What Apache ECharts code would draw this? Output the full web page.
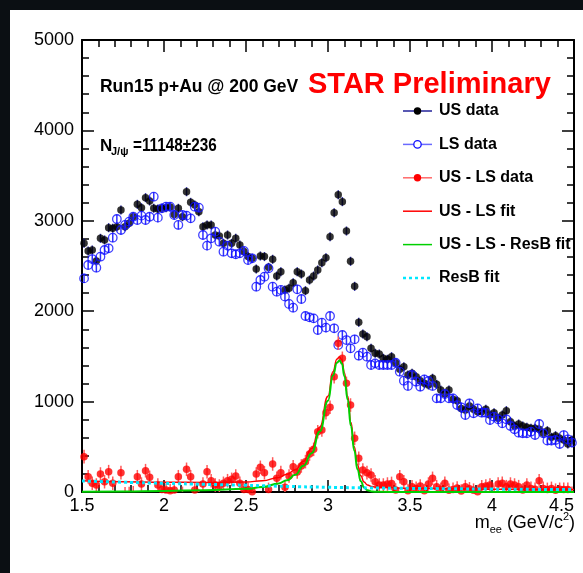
<!DOCTYPE html>
<html><head><meta charset="utf-8">
<script src="https://cdn.jsdelivr.net/npm/echarts@6/dist/echarts.min.js"></script>
<style>html,body{margin:0;padding:0;background:#0b0f13;}#c{width:583px;height:573px;}</style>
</head><body><div id="c"></div>
<script>
// ---- data ----
const binStart = 1.5, binWidth = 0.025;
const usData = [2751,2666,2677,2555,2806,2788,2924,2917,2935,3119,2935,2972,3045,3182,3145,3256,3219,3138,3131,3138,3145,3153,3071,3138,3045,3322,3204,3175,3101,2935,2953,2953,2843,2832,2751,2843,2751,2806,2733,2660,2604,
2585,2467,2611,2604,2485,2574,2389,2437,2235,2253,2315,2437,2411,2227,2345,2389,2456,2537,2592,
2824,3090,3289,3212,2887,2552,2275,1877,1748,1718,1589,1534,1527,1479,1468,1497,1430,1357,
1386,1294,1313,1276,1231,1202,1184,1258,1191,1128,1084,1128,1025,1010,925,907,951,914,888,888,914,852,877,815,852,900,778,730,752,730,715,704,704,693,649,678,605,623,594,575,531,575];
const lsData = [2363,2511,2577,2481,2603,2677,2696,2813,3020,2898,2954,2990,3045,3009,3057,3009,3045,3267,3035,3138,3156,3156,3064,2954,3064,3057,3027,3156,3145,2843,2725,2806,2880,2769,2658,2725,2640,2630,2640,2667,2566,
2585,2271,2345,2382,2474,2271,2216,2235,2161,2080,2039,2242,2135,1947,1932,1921,1792,1873,1818,1947,1811,
1626,1737,1681,1589,1689,1508,1541,1497,1405,1423,1405,1405,1405,1405,1430,1331,
1231,1173,1294,1220,1165,1246,1228,1173,1036,1036,1084,1036,1036,962,937,852,981,870,925,877,877,796,833,804,760,804,730,693,656,649,649,667,630,752,649,568,568,575,531,630,583,546];
const sigData = [391,169,96,77,199,114,225,96,-85,214,-19,-18,-10,169,88,236,162,-129,77,29,22,15,22,169,-15,251,169,22,-44,88,225,125,77,66,96,125,140,177,96,29,29,4,199,273,214,29,310,151,214,52,177,280,221,288,336,420,472,667,686,877,937,1276,1645,1479,1202,962,594,372,243,214,188,114,77,77,88,95,22,169,114,15,59,40,66,15,88,151,59,30,96,20,29,45,10,59,35,20,4,59,66,77,-4,88,96,59,88,77,59,22,77,40,30,125,40,29,40,20,30,29,29,-15];
const usErr = 50, lsErr = 50, sigErr = 75;
const fitX      = [1.5,1.75,2.0,2.25,2.5,2.6,2.7,2.75,2.8,2.85,2.9,2.95,3.0,3.03,3.055,3.07,3.085,3.1,3.12,3.14,3.16,3.18,3.2,3.22,3.24,3.27,3.3,3.5,3.75,4.0,4.25,4.5];
const fitTotal  = [125,114,108,106,110,125,160,195,245,340,480,720,1060,1330,1470,1495,1460,1320,1060,770,500,300,180,110,78,60,52,40,35,31,29,27];
const fitSignal = [3,6,11,20,35,55,95,130,190,290,430,670,1010,1290,1430,1455,1420,1280,1020,730,460,250,120,50,20,6,2,0,0,0,0,0];
const resbX   = [1.5,1.75,2.0,2.25,2.5,2.75,3.0,3.25,3.5,3.75,4.0,4.25,4.5];
const resbFit = [122,108,96,85,74,62,52,45,40,36,32,29,27];
const legendNames = ['US data','LS data','US - LS data','US - LS fit','US - LS - ResB fit','ResB fit'];

const massBins = usData.map((_, i) => binStart + binWidth * (i + 0.5));
const pairs = (xs, ys) => ys.map((v, i) => [xs[i], v]);
const FONT = 'Liberation Sans, Arial, sans-serif';

function errSeries(vals, err, color, z) {
  return {
    type: 'custom', z: z, clip: true, silent: true,
    data: vals.map((v, i) => [massBins[i], v, err]),
    encode: { x: 0, y: 1 },
    renderItem: function (params, api) {
      const x = api.value(0), y = api.value(1), e = api.value(2);
      const p1 = api.coord([x, y - e]), p2 = api.coord([x, y + e]);
      return { type: 'line', shape: { x1: p1[0], y1: p1[1], x2: p2[0], y2: p2[1] },
               style: { stroke: color, lineWidth: 1.5 } };
    }
  };
}

const axisCommon = {
  axisLine: { show: true, onZero: false, lineStyle: { color: '#000', width: 2 } },
  axisTick: { show: true, inside: true, length: 12, lineStyle: { color: '#000', width: 1.5 } },
  minorTick: { show: true, splitNumber: 5, length: 7, lineStyle: { color: '#000', width: 1.5 } },
  splitLine: { show: false }
};
const plain = v => String(v);

// legend graphics
const legendTop = 111, legendStep = 33.4, iconX0 = 403, iconX1 = 432, textX = 439;
const lg = [];
const rowY = i => legendTop + i * legendStep;
lg.push({ type: 'line', shape: { x1: iconX0, y1: rowY(0), x2: iconX1, y2: rowY(0) }, style: { stroke: '#22229a', lineWidth: 1.5 } });
lg.push({ type: 'circle', shape: { cx: 417.5, cy: rowY(0), r: 3.7 }, style: { fill: '#000' } });
lg.push({ type: 'line', shape: { x1: iconX0, y1: rowY(1), x2: iconX1, y2: rowY(1) }, style: { stroke: '#6a6aff', lineWidth: 1.5 } });
lg.push({ type: 'circle', shape: { cx: 417.5, cy: rowY(1), r: 3.7 }, style: { fill: '#fff', stroke: '#1010ff', lineWidth: 1.3 } });
lg.push({ type: 'line', shape: { x1: iconX0, y1: rowY(2), x2: iconX1, y2: rowY(2) }, style: { stroke: '#ff6a6a', lineWidth: 1.5 } });
lg.push({ type: 'circle', shape: { cx: 417.5, cy: rowY(2), r: 3.7 }, style: { fill: '#ff0000' } });
lg.push({ type: 'line', shape: { x1: iconX0, y1: rowY(3), x2: iconX1, y2: rowY(3) }, style: { stroke: '#ff0000', lineWidth: 1.5 } });
lg.push({ type: 'line', shape: { x1: iconX0, y1: rowY(4), x2: iconX1, y2: rowY(4) }, style: { stroke: '#00d000', lineWidth: 1.5 } });
lg.push({ type: 'line', shape: { x1: iconX0, y1: rowY(5), x2: iconX1, y2: rowY(5) }, style: { stroke: '#00e8ff', lineWidth: 2.5, lineDash: [3, 3] } });
legendNames.forEach((n, i) => lg.push({ type: 'text', x: textX, y: rowY(i),
  style: { text: n, font: 'bold 16px ' + FONT, fill: '#000', textVerticalAlign: 'middle', textAlign: 'left' } }));

const option = {
  backgroundColor: '#0b0f13',
  animation: false,
  grid: { left: 82, right: 9, top: 40, bottom: 81, show: false },
  xAxis: [
    Object.assign({ type: 'value', min: 1.5, max: 4.5, interval: 0.5, position: 'bottom',
      axisLabel: { color: '#000', fontSize: 18, fontFamily: FONT, margin: 5, alignMaxLabel: 'right', formatter: plain } }, axisCommon),
    Object.assign({ type: 'value', min: 1.5, max: 4.5, interval: 0.5, position: 'top',
      axisLabel: { show: false } }, axisCommon)
  ],
  yAxis: [
    Object.assign({ type: 'value', min: 0, max: 5000, interval: 1000, position: 'left',
      axisLabel: { color: '#000', fontSize: 18, fontFamily: FONT, margin: 8, formatter: plain } }, axisCommon),
    Object.assign({ type: 'value', min: 0, max: 5000, interval: 1000, position: 'right',
      axisLabel: { show: false } }, axisCommon)
  ],
  graphic: [
    { type: 'rect', z: -10, shape: { x: 10, y: 10, width: 573, height: 563 }, style: { fill: '#fff' }, silent: true },
    { type: 'group', z: 100, children: [
      { type: 'text', x: 100, y: 87, scaleX: 0.92, style: { text: 'Run15 p+Au @ 200 GeV', font: 'bold 19px ' + FONT, fill: '#000', textVerticalAlign: 'middle' } },
      { type: 'text', x: 308, y: 85, style: { text: 'STAR Preliminary', font: 'bold 29px ' + FONT, fill: '#ff0000', textVerticalAlign: 'middle' } },
      { type: 'text', x: 100, y: 146, style: { text: 'N', font: 'bold 17px ' + FONT, fill: '#000', textVerticalAlign: 'middle' } },
      { type: 'text', x: 111, y: 152, style: { text: 'J/ψ', font: 'bold 11px ' + FONT, fill: '#000', textVerticalAlign: 'middle' } },
      { type: 'text', x: 133, y: 146, scaleX: 0.85, style: { text: '=11148±236', font: 'bold 18px ' + FONT, fill: '#000', textVerticalAlign: 'middle' } },
      { type: 'text', x: 575, y: 523, style: {
          text: '{m|m}{s|ee}{m| (GeV/c}{p|2}{m|)}', textAlign: 'right', textVerticalAlign: 'middle',
          rich: { m: { fontSize: 18, fontFamily: FONT, fill: '#000', lineHeight: 24, verticalAlign: 'middle' },
                  s: { fontSize: 11, fontFamily: FONT, fill: '#000', lineHeight: 24, verticalAlign: 'bottom' },
                  p: { fontSize: 11, fontFamily: FONT, fill: '#000', lineHeight: 24, verticalAlign: 'top' } } } }
    ].concat(lg) }
  ],
  series: [
    errSeries(usData, usErr, '#22229a', 2),
    { type: 'scatter', z: 3, clip: true, symbol: 'circle', symbolSize: 7.5, data: pairs(massBins, usData),
      itemStyle: { color: '#000' }, silent: true },
    errSeries(lsData, lsErr, '#3030ff', 4),
    { type: 'scatter', z: 5, clip: true, symbol: 'circle', symbolSize: 8.5, data: pairs(massBins, lsData),
      itemStyle: { color: 'rgba(255,255,255,0)', borderColor: '#1010ff', borderWidth: 1.3 }, silent: true },
    errSeries(sigData, sigErr, '#ff5a5a', 6),
    { type: 'scatter', z: 7, clip: true, symbol: 'circle', symbolSize: 7.5, data: pairs(massBins, sigData),
      itemStyle: { color: '#ff0000' }, silent: true },
    { type: 'line', z: 8, data: pairs(fitX, fitTotal), showSymbol: false, smooth: true, smoothMonotone: 'x', clip: true,
      lineStyle: { color: '#ff0000', width: 1.5 }, silent: true },
    { type: 'line', z: 9, data: pairs(fitX, fitSignal), showSymbol: false, smooth: true, smoothMonotone: 'x', clip: true,
      lineStyle: { color: '#00d000', width: 2 }, silent: true },
    { type: 'line', z: 10, data: pairs(resbX, resbFit), showSymbol: false, smooth: true, clip: true,
      lineStyle: { color: '#00e8ff', width: 3, type: [3, 3] }, silent: true }
  ]
};
const chart = echarts.init(document.getElementById('c'), null, { renderer: 'canvas' });
chart.setOption(option);
</script></body></html>
